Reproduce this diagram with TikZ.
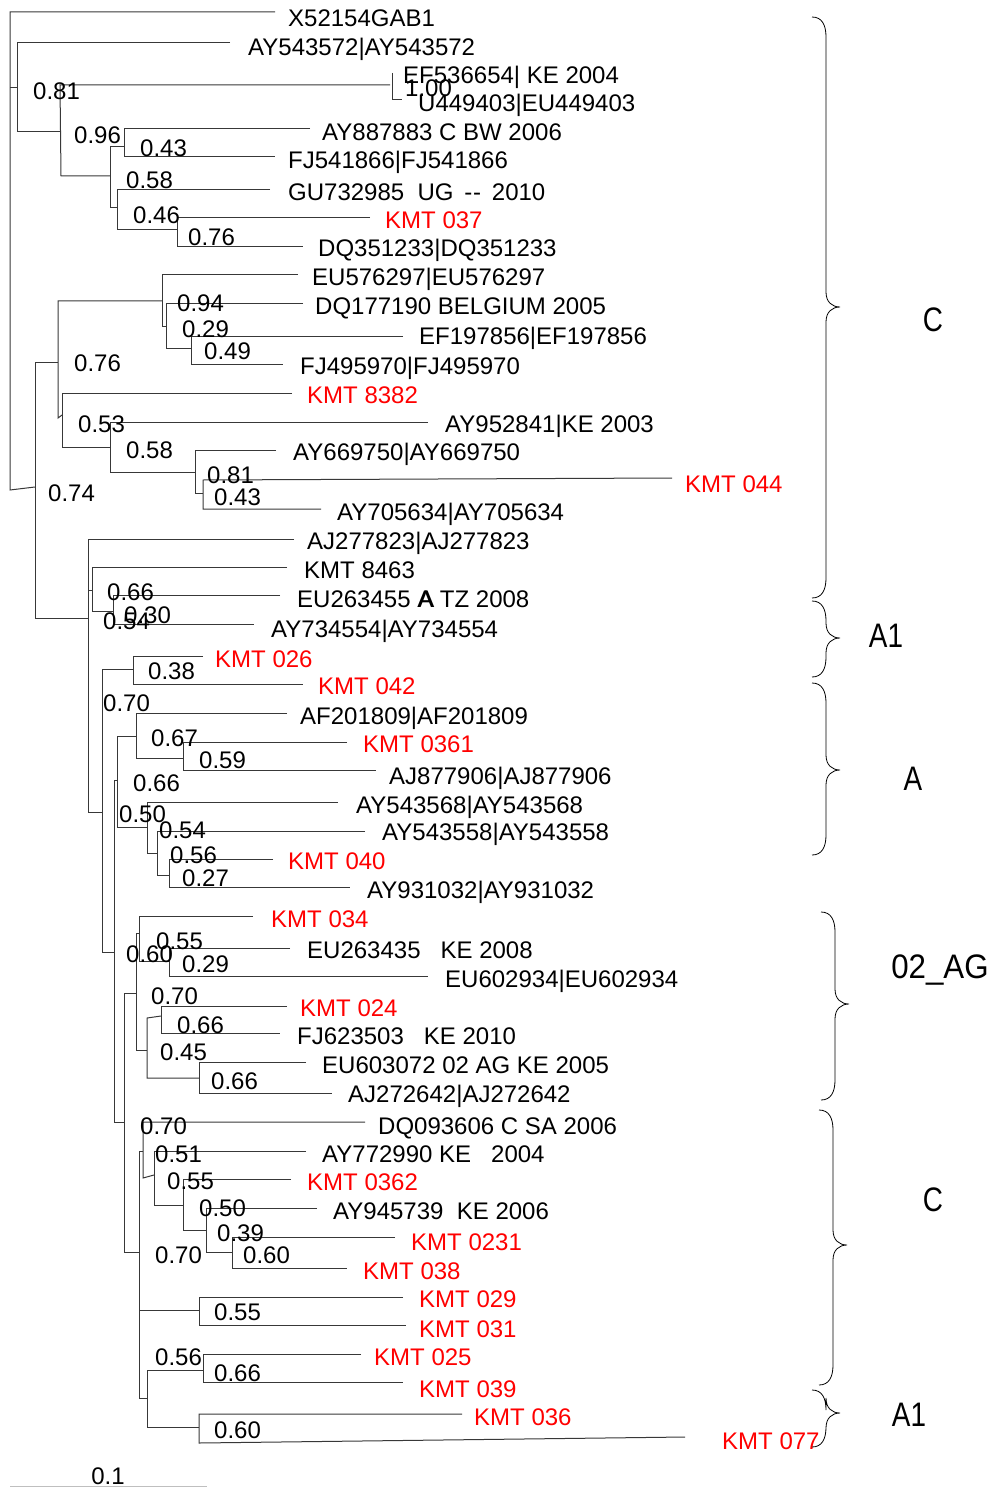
\documentclass[tikz,border=0pt]{standalone}
\usepackage{fontspec}
\setmainfont{Liberation Sans}
\usepackage{graphicx}
\usepackage{tikz}
\usetikzlibrary{positioning}

\newcommand{\leaffont}{\fontsize{24}{28}\selectfont}
\newcommand{\cladefont}{\fontsize{34}{40}\selectfont}
\newcommand{\cladebrace}[4]{%
  \draw[bracket] ({#1-14},#2) .. controls ({#1-4},#2) and (#1,{#2+8}) .. (#1,{#2+20})
    -- (#1,{#3-15}) .. controls (#1,{#3-5}) and ({#1+6},#3) .. ({#1+14},#3)
    .. controls ({#1+6},#3) and (#1,{#3+5}) .. (#1,{#3+15})
    -- (#1,{#4-20}) .. controls (#1,{#4-8}) and ({#1-4},#4) .. ({#1-14},#4);}

\tikzset{
  branch/.style={draw=black!78, line width=1pt},
  leaf/.style={anchor=west, inner sep=0pt, text height=17pt, text depth=0pt, font=\leaffont},
  kmt/.style={leaf, text=red},
  boot/.style={leaf},
  subtype/.style={inner sep=0pt, font=\cladefont},
  bracket/.style={draw=black, line width=0.8pt},
}

\begin{document}
\begin{tikzpicture}[x=1pt,y=-1pt]
    \useasboundingbox (0,0) rectangle (995,1487);

    % Top C group
    \draw[branch] (275,12) -- (10,12) -- (10,490) -- (35,487);
    \draw[branch] (10,88) -- (17,88);
    \draw[branch] (230,43) -- (17,43) -- (17,132) -- (60,132);
    \draw[branch] (390,85) -- (60,85) -- (61,176) -- (110,176);
    \draw[branch] (392,73) -- (392,100) -- (402,100);
    \draw[branch] (124,147) -- (110,147) -- (110,208) -- (117,208);
    \draw[branch] (310,129) -- (124,129) -- (124,157) -- (275,157);
    \draw[branch] (270,190) -- (117,190) -- (117,230) -- (177,230);
    \draw[branch] (370,218) -- (177,218) -- (177,247) -- (303,247);

    % Second C group
    \draw[branch] (58,362) -- (35,362) -- (35,618) -- (88,618);
    \draw[branch] (162,301) -- (58,301) -- (58,418) -- (62,415);
    \draw[branch] (298,275) -- (162,275) -- (162,326) -- (166,326);
    \draw[branch] (303,304) -- (166,304) -- (166,348) -- (191,348);
    \draw[branch] (403,336) -- (191,336) -- (191,364) -- (283,364);
    \draw[branch] (292,393) -- (62,393) -- (62,447) -- (110,447);
    \draw[branch] (428,422) -- (110,422) -- (110,472) -- (195,472);
    \draw[branch] (276,450) -- (195,450) -- (195,493) -- (203,493);
    \draw[branch] (672,478) -- (203,480) -- (203,509) -- (321,509);

    % A1 and A groups
    \draw[branch] (294,539) -- (88,539) -- (88,812) -- (102,812);
    \draw[branch] (88,590) -- (92,590);
    \draw[branch] (287,567) -- (92,567) -- (92,611) -- (113,611);
    \draw[branch] (280,595) -- (113,595) -- (113,624) -- (254,624);
    \draw[branch] (133,669) -- (102,669) -- (102,952) -- (114,952);
    \draw[branch] (203,656) -- (133,656) -- (133,684) -- (303,684);
    \draw[branch] (117,780) -- (114,780) -- (114,1122) -- (124,1122);
    \draw[branch] (136,736) -- (117,736) -- (117,827) -- (147,827);
    \draw[branch] (287,713) -- (136,713) -- (136,758) -- (183,758);
    \draw[branch] (347,742) -- (183,742) -- (183,770) -- (376,770);
    \draw[branch] (338,802) -- (147,802) -- (147,853) -- (157,853);
    \draw[branch] (365,831) -- (157,831) -- (157,875) -- (169,875);
    \draw[branch] (273,859) -- (169,859) -- (169,887) -- (350,887);

    % 02_AG group
    \draw[branch] (136,993) -- (124,993) -- (124,1252) -- (139,1252);
    \draw[branch] (139,933) -- (136,933) -- (136,1050) -- (147,1050);
    \draw[branch] (253,916) -- (139,916) -- (139,961) -- (169,961);
    \draw[branch] (290,948) -- (169,948) -- (169,976) -- (428,976);
    \draw[branch] (161,1016) -- (147,1018) -- (147,1078) -- (199,1078);
    \draw[branch] (287,1006) -- (161,1006) -- (161,1033) -- (280,1033);
    \draw[branch] (306,1062) -- (199,1062) -- (199,1093) -- (332,1093);

    % Bottom C and A1 groups
    \draw[branch] (143,1151) -- (139,1151) -- (139,1398) -- (147,1398);
    \draw[branch] (139,1310) -- (199,1310);
    \draw[branch] (365,1122) -- (143,1122) -- (143,1178) -- (154,1175);
    \draw[branch] (306,1151) -- (154,1151) -- (154,1205) -- (183,1205);
    \draw[branch] (291,1179) -- (183,1179) -- (183,1230) -- (206,1230);
    \draw[branch] (317,1208) -- (206,1208) -- (206,1252) -- (232,1252);
    \draw[branch] (395,1237) -- (232,1237) -- (232,1268) -- (347,1268);
    \draw[branch] (403,1297) -- (199,1297) -- (199,1325) -- (406,1325);
    \draw[branch] (203,1370) -- (147,1370) -- (147,1427) -- (199,1427);
    \draw[branch] (361,1354) -- (203,1354) -- (203,1382) -- (403,1382);
    \draw[branch] (462,1414) -- (199,1414) -- (199,1443) -- (685,1437);

    % Leaf labels
    \node[leaf] (x52154) at (288,18) {X52154GAB1};
    \node[leaf] (ay543572) at (248,47) {AY543572|AY543572};
    \node[leaf] (ef536654) at (403,75) {EF536654| KE 2004};
    \node[leaf] (u449403) at (418,103) {U449403|EU449403};
    \node[leaf] (ay887883) at (322,132) {AY887883 C BW 2006};
    \node[leaf] (fj541866) at (288,160) {FJ541866|FJ541866};
    \node[leaf] (gu732985) at (288,192) {GU732985~~UG \,-\kern1pt-\, 2010};
    \node[kmt] (kmt037) at (385,220) {KMT 037};
    \node[leaf] (dq351233) at (318,248) {DQ351233|DQ351233};
    \node[leaf] (eu576297) at (312,277) {EU576297|EU576297};
    \node[leaf] (dq177190) at (315,306) {DQ177190 BELGIUM 2005};
    \node[leaf] (ef197856) at (419,336) {EF197856|EF197856};
    \node[leaf] (fj495970) at (300,366) {FJ495970|FJ495970};
    \node[kmt] (kmt8382) at (307,395) {KMT 8382};
    \node[leaf] (ay952841) at (445,424) {AY952841|KE 2003};
    \node[leaf] (ay669750) at (293,452) {AY669750|AY669750};
    \node[kmt] (kmt044) at (685,484) {KMT 044};
    \node[leaf] (ay705634) at (337,512) {AY705634|AY705634};
    \node[leaf] (aj277823) at (307,541) {AJ277823|AJ277823};
    \node[leaf] (kmt8463) at (304,570) {KMT 8463};
    \node[leaf] (eu263455) at (297,599) {EU263455 \rlap{\kern1pt A}A TZ 2008};
    \node[leaf] (ay734554) at (271,629) {AY734554|AY734554};
    \node[kmt] (kmt026) at (215,659) {KMT 026};
    \node[kmt] (kmt042) at (318,686) {KMT 042};
    \node[leaf] (af201809) at (300,716) {AF201809|AF201809};
    \node[kmt] (kmt0361) at (363,744) {KMT 0361};
    \node[leaf] (aj877906) at (389,776) {AJ877906|AJ877906};
    \node[leaf] (ay543568) at (356,805) {AY543568|AY543568};
    \node[leaf] (ay543558) at (382,832) {AY543558|AY543558};
    \node[kmt] (kmt040) at (288,861) {KMT 040};
    \node[leaf] (ay931032) at (367,890) {AY931032|AY931032};
    \node[kmt] (kmt034) at (271,919) {KMT 034};
    \node[leaf] (eu263435) at (307,950) {EU263435~~~KE 2008};
    \node[leaf] (eu602934) at (445,979) {EU602934|EU602934};
    \node[kmt] (kmt024) at (300,1008) {KMT 024};
    \node[leaf] (fj623503) at (297,1036) {FJ623503~~~KE 2010};
    \node[leaf] (eu603072) at (322,1065) {EU603072 02 AG KE 2005};
    \node[leaf] (aj272642) at (348,1094) {AJ272642|AJ272642};
    \node[leaf] (dq093606) at (378,1126) {DQ093606 C SA 2006};
    \node[leaf] (ay772990) at (322,1154) {AY772990 KE~~~2004};
    \node[kmt] (kmt0362) at (307,1182) {KMT 0362};
    \node[leaf] (ay945739) at (333,1211) {AY945739~~KE 2006};
    \node[kmt] (kmt0231) at (411,1242) {KMT 0231};
    \node[kmt] (kmt038) at (363,1271) {KMT 038};
    \node[kmt] (kmt029) at (419,1299) {KMT 029};
    \node[kmt] (kmt031) at (419,1329) {KMT 031};
    \node[kmt] (kmt025) at (374,1357) {KMT 025};
    \node[kmt] (kmt039) at (419,1389) {KMT 039};
    \node[kmt] (kmt036) at (474,1417) {KMT 036};
    \node[kmt] (kmt077) at (722,1441) {KMT 077};

    % Support values
    \node[boot] (p1) at (33,91) {0.81};
    \node[boot] (p2) at (405,88) {1.00};
    \node[boot] (p3) at (74,135) {0.96};
    \node[boot] (p4) at (140,148) {0.43};
    \node[boot] (p5) at (126,180) {0.58};
    \node[boot] (p6) at (133,215) {0.46};
    \node[boot] (p7) at (188,237) {0.76};
    \node[boot] (p8) at (177,303) {0.94};
    \node[boot] (p9) at (182,329) {0.29};
    \node[boot] (p10) at (204,351) {0.49};
    \node[boot] (p11) at (74,363) {0.76};
    \node[boot] (p12) at (78,424) {0.53};
    \node[boot] (p13) at (126,450) {0.58};
    \node[boot] (p14) at (207,475) {0.81};
    \node[boot] (p15) at (214,497) {0.43};
    \node[boot] (p16) at (48,493) {0.74};
    \node[boot] (p17) at (107,592) {0.66};
    \node[boot] (p18) at (124,615) {0.30};
    \node[boot] (p19) at (103,621) {0.54};
    \node[boot] (p20) at (148,671) {0.38};
    \node[boot] (p21) at (103,703) {0.70};
    \node[boot] (p22) at (151,738) {0.67};
    \node[boot] (p23) at (199,760) {0.59};
    \node[boot] (p24) at (133,783) {0.66};
    \node[boot] (p25) at (119,814) {0.50};
    \node[boot] (p26) at (159,830) {0.54};
    \node[boot] (p27) at (170,855) {0.56};
    \node[boot] (p28) at (182,878) {0.27};
    \node[boot] (p29) at (156,941) {0.55};
    \node[boot] (p30) at (126,954) {0.60};
    \node[boot] (p31) at (182,964) {0.29};
    \node[boot] (p32) at (151,996) {0.70};
    \node[boot] (p33) at (177,1025) {0.66};
    \node[boot] (p34) at (160,1052) {0.45};
    \node[boot] (p35) at (211,1081) {0.66};
    \node[boot] (p36) at (140,1126) {0.70};
    \node[boot] (p37) at (155,1154) {0.51};
    \node[boot] (p38) at (167,1181) {0.55};
    \node[boot] (p39) at (199,1208) {0.50};
    \node[boot] (p40) at (217,1233) {0.39};
    \node[boot] (p41) at (155,1255) {0.70};
    \node[boot] (p42) at (243,1255) {0.60};
    \node[boot] (p43) at (214,1312) {0.55};
    \node[boot] (p44) at (155,1357) {0.56};
    \node[boot] (p45) at (214,1373) {0.66};
    \node[boot] (p46) at (214,1430) {0.60};

    % Subtype braces
    \cladebrace{826}{17}{307}{598}
    \cladebrace{826}{601}{638}{677}
    \cladebrace{826}{683}{770}{855}
    \cladebrace{835}{912}{1004}{1100}
    \cladebrace{833}{1110}{1245}{1385}
    \cladebrace{826}{1390}{1413}{1447}
    \node[subtype] (cTop) at (933,320) {\scalebox{0.82}[1]{C}};
    \node[subtype] (aOne) at (886,636) {\scalebox{0.82}[1]{A1}};
    \node[subtype] (aSub) at (913,779) {\scalebox{0.82}[1]{A}};
    \node[subtype] (agSub) at (940,970) {\scalebox{0.92}[1]{02\_AG}};
    \node[subtype] (cLow) at (933,1200) {\scalebox{0.82}[1]{C}};
    \node[subtype] (aTwo) at (909,1415) {\scalebox{0.82}[1]{A1}};

    % Scale bar
    \coordinate (s0) at (10,1486);
    \coordinate (s1) at (207,1486);
    \draw[black!25, line width=1pt] (s0) -- (s1);
    \node[boot, anchor=center] (scale) at (108,1476) {0.1};
\end{tikzpicture}
\end{document}
